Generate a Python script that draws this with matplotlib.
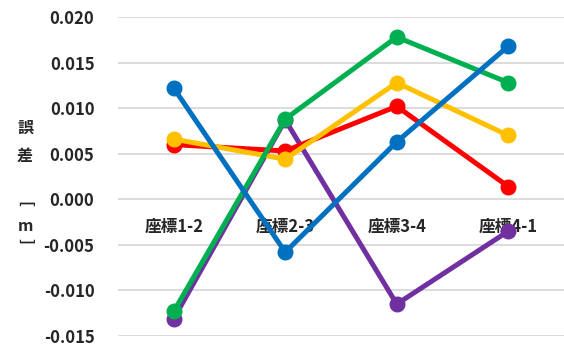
import matplotlib
matplotlib.use("Agg")
import matplotlib.pyplot as plt

plt.rcParams['font.family'] = ['Noto Sans CJK JP', 'DejaVu Sans']

categories = ['座標1-2', '座標2-3', '座標3-4', '座標4-1']
red = [0.0060, 0.0053, 0.0102, 0.0014]
yellow = [0.0066, 0.0044, 0.0128, 0.0070]
purple = [-0.0131, 0.0087, -0.0115, -0.0035]
green = [-0.0123, 0.0088, 0.0178, 0.0128]
blue = [0.0122, -0.0058, 0.0063, 0.0168]

series = [(purple, '#7030A0'), (red, '#FF0000'), (yellow, '#FFC000'),
          (green, '#00B050'), (blue, '#0070C0')]

fig = plt.figure(figsize=(5.64, 3.51), dpi=100)
ax = fig.add_axes([118 / 564, 15 / 351, 446 / 564, 319 / 351])

x = list(range(len(categories)))
for vals, col in series:
    ax.plot(x, vals, color=col, lw=3.6, marker='o', ms=10.5, zorder=3,
            solid_joinstyle='round')

ax.set_xlim(-0.5, 3.5)
ax.set_ylim(-0.015, 0.020)
ax.set_yticks([-0.015, -0.010, -0.005, 0.0, 0.005, 0.010, 0.015, 0.020])
ax.set_yticklabels(['%.3f' % v for v in ax.get_yticks()])
ax.grid(axis='y', color='#d9d9d9', lw=1.3, zorder=0)
ax.set_axisbelow(True)

for s in ['top', 'right', 'left']:
    ax.spines[s].set_visible(False)
ax.spines['bottom'].set_position(('data', 0))
ax.spines['bottom'].set_visible(False)
ax.set_xticks(x)
ax.set_xticklabels(categories)
ax.tick_params(axis='x', length=0, pad=13, labelsize=12, labelcolor='#262626')
ax.tick_params(axis='y', length=0, pad=17, labelsize=12, labelcolor='#262626')
for lab in ax.get_xticklabels() + ax.get_yticklabels():
    lab.set_fontweight('bold')
for lab in ax.get_xticklabels():
    lab.set_zorder(1)

ylab = dict(ha='center', va='center', fontsize=11.5, fontweight='bold', color='#262626')
fig.text(25 / 564, 1 - 128 / 351, '誤', **ylab)
fig.text(25 / 564, 1 - 156 / 351, '差', **ylab)
fig.text(25 / 564, 1 - 204 / 351, '[', rotation=-90, **ylab)
fig.text(25 / 564, 1 - 226 / 351, 'm', **ylab)
fig.text(25 / 564, 1 - 241 / 351, ']', rotation=-90, **ylab)

fig.savefig('out.png', dpi=100)
